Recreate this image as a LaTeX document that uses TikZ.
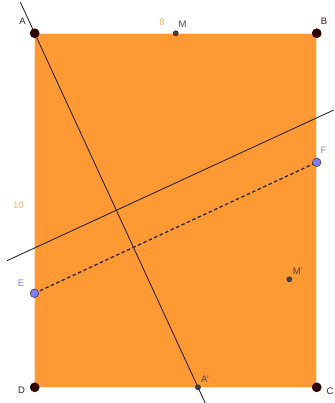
\documentclass[tikz,border=0pt]{standalone}
\usepackage{fontspec}
\setmainfont{Liberation Sans}
\usetikzlibrary{calc,backgrounds}
\definecolor{sheet}{RGB}{255,153,51}
\definecolor{sheetedge}{RGB}{255,226,196}
\definecolor{vtx}{RGB}{51,0,0}
\definecolor{vtxtext}{RGB}{77,26,26}
\definecolor{ptgray}{RGB}{68,68,68}
\definecolor{ptblue}{RGB}{125,125,255}
\definecolor{dimtext}{RGB}{255,178,102}
\tikzset{
  pt/.style={circle,inner sep=0pt,line width=0.6pt},
  lbl/.style={font=\fontsize{9.5}{11}\selectfont,inner sep=0pt}
}

\begin{document}
\begin{tikzpicture}[x=1pt,y=-1pt,
  vtxpt/.style={pt,fill=vtx,draw=vtx!80!black,minimum size=9pt},
  midpt/.style={pt,fill=ptgray,draw=black!85,minimum size=5pt},
  bluept/.style={pt,fill=ptblue,draw=black!75,minimum size=8.5pt},
  crease/.style={line width=0.8pt,black!90},
  fold/.style={line width=1.3pt,black!85,dash pattern=on 3.5pt off 2.5pt}]
\useasboundingbox (0,0) rectangle (334,403);
\node[vtxpt] (A) at (34.7,33.3) {};
\node[vtxpt] (B) at (316.7,33.3) {};
\node[vtxpt] (C) at (316.7,387.3) {};
\node[vtxpt] (D) at (34.7,387.3) {};
\node[midpt] (M) at (175.7,33.3) {};
\node[midpt] (Ap) at (198,387.3) {};
\node[midpt] (Mp) at (289.3,279.3) {};
\node[bluept] (E) at (34.5,293.3) {};
\node[bluept] (F) at (316.7,162.3) {};
\coordinate (m1) at (7,260.7);
\coordinate (m2) at (334,109.9);
\begin{scope}[on background layer]
\filldraw[fill=sheet,draw=sheetedge,line width=1pt]
  (A.center)--(B.center)--(C.center)--(D.center)--cycle;
\draw[crease] ($(A.center)!-0.088!(Ap.center)$) -- ($(A.center)!1.044!(Ap.center)$);
\draw[crease] (m1) -- (m2);
\draw[fold] (E.center) -- (F.center);
\end{scope}
\node[lbl,text=vtxtext] at (22.5,21.5) {A};
\node[lbl,text=vtxtext] at (324,21) {B};
\node[lbl,text=vtxtext] at (330,391) {C};
\node[lbl,text=vtxtext] at (21.5,390.5) {D};
\node[lbl,text=ptgray] at (182.5,24.5) {M};
\node[lbl,text=ptgray] at (205,379.5) {A'};
\node[lbl,text=ptgray] at (298,271.5) {M'};
\node[lbl,text=ptblue] at (21,283.5) {E};
\node[lbl,text=ptblue] at (323.5,150.5) {F};
\node[lbl,text=dimtext] at (162,22) {8};
\node[lbl,text=dimtext] at (18.5,205.5) {10};
\end{tikzpicture}
\end{document}
